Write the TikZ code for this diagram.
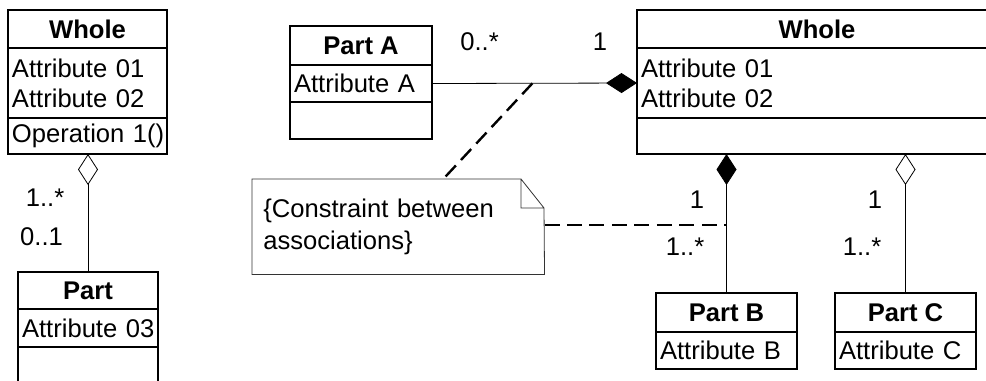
\documentclass[tikz,border=0pt]{standalone}
\usepackage{fontspec}
\setmainfont{Liberation Sans}
\usetikzlibrary{arrows.meta,calc}

\begin{document}
\begin{tikzpicture}[x=0.75pt,y=0.75pt,yscale=-1,xscale=1,
  font=\fontsize{19.2}{22.5}\selectfont,
  cell/.style={draw, line width=0.9pt, inner sep=0pt, outer sep=0pt, anchor=north west},
  head/.style={cell, font=\fontsize{19.2}{22.5}\selectfont\bfseries},
  attr/.style={cell, align=left, inner xsep=3pt},
  assoc/.style={line width=0.6pt},
  comp/.style={assoc, -{Diamond[length=23.25pt,width=15pt]}},
  aggr/.style={assoc, -{Diamond[open,length=23.25pt,width=15pt]}},
  constr/.style={line width=1.8pt, dash pattern=on 11.25pt off 5.6pt},
  notebox/.style={anchor=north west, inner xsep=8.25pt, inner ysep=0pt, align=left,
    font=\fontsize{19.2}{24}\selectfont},
  notec/.style={draw=black!80, line width=0.6pt}]
\clip (0,0) rectangle (986,380);

% left whole / part
\node[head, minimum width=119.25pt, minimum height=28.5pt] (wLhead) at (8,10) {Whole};
\node[attr, text width=113.25pt, minimum height=52.5pt] (wLattr) at (wLhead.south west) {Attribute 01\\Attribute 02};
\node[attr, text width=113.25pt, minimum height=27pt] (wLops) at (wLattr.south west) {\mbox{Operation 1()}};
\node[head, minimum width=105pt, minimum height=27.75pt] (pLhead) at (18,272) {Part};
\node[attr, text width=99pt, minimum height=28.5pt] (pLattr) at (pLhead.south west) {\mbox{Attribute 03}};
\node[attr, text width=99pt, minimum height=30pt] (pLops) at (pLattr.south west) {};

% right whole and its parts
\node[head, minimum width=106.5pt, minimum height=29.25pt] (pAhead) at (290,26) {Part A};
\node[attr, text width=100.5pt, minimum height=27.75pt] (pAattr) at (pAhead.south west) {\mbox{Attribute A}};
\node[attr, text width=100.5pt, minimum height=27.75pt] (pAops) at (pAattr.south west) {};
\node[head, minimum width=270pt, minimum height=28.5pt] (wRhead) at (637,10) {Whole};
\node[attr, text width=264pt, minimum height=52.5pt] (wRattr) at (wRhead.south west) {Attribute 01\\Attribute 02};
\node[attr, text width=264pt, minimum height=27pt] (wRops) at (wRattr.south west) {};
\node[head, minimum width=105.75pt, minimum height=29.25pt] (pBhead) at (656,293) {Part B};
\node[attr, text width=99.75pt, minimum height=27.75pt] (pBattr) at (pBhead.south west) {\mbox{Attribute B}};
\node[head, minimum width=105.75pt, minimum height=29.25pt] (pChead) at (835,293) {Part C};
\node[attr, text width=99.75pt, minimum height=27.75pt] (pCattr) at (pChead.south west) {\mbox{Attribute C}};

% note
\node[notebox, text width=202.5pt, minimum height=71.25pt] (note) at (252,179) {\{Constraint between\\associations\}};
\coordinate (fold1) at (521,179);
\coordinate (fold2) at (544,208);
\draw[notec] (note.north west) -- (note.south west) -- (note.south east) -- (fold2) -- (fold1) -- cycle (fold1) |- (fold2);

% associations
\draw[aggr] (pLhead.north) -- (pLhead.north |- wLops.south);
\draw[comp] (pAattr.east) -- (wRattr.west);
\draw[comp] (pBhead.north) -- (pBhead.north |- wRops.south);
\draw[aggr] (pChead.north) -- (pChead.north |- wRops.south);

% constraint links
\coordinate (cA) at ($(pAattr.east)!0.49!(wRattr.west)$);
\draw[constr] (cA) -- ($(note.north)+(45,0)$);
\draw[constr] ($(note.east)+(0,-1.5)$) -- ($(note.east -| pBhead.north)+(0,-1.5)$);

% multiplicities
\node (mL1) at (45,198) {1..*};
\node (mL2) at (41.5,237) {0..1};
\node (mA1) at (479.5,42) {0..*};
\node (mA2) at (600,42) {1};
\node (mB1) at (697,200) {1};
\node (mB2) at (685,247) {1..*};
\node (mC1) at (875,200) {1};
\node (mC2) at (862,247) {1..*};
\end{tikzpicture}
\end{document}
